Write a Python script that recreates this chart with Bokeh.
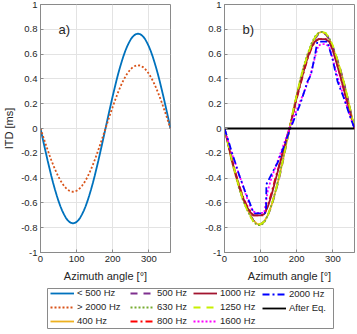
from bokeh.plotting import figure
from bokeh.layouts import column, row
from bokeh.models import (Legend, LegendItem, FixedTicker, CustomJSTickFormatter,
                          Range1d, Label)
from bokeh.embed import file_html
from bokeh.resources import INLINE

FONT = "Liberation Sans"

# ---------------- data ----------------
az5 = [0, 5, 10, 15, 20, 25, 30, 35, 40, 45, 50, 55, 60, 65, 70, 75, 80, 85, 90,
       95, 100, 105, 110, 115, 120, 125, 130, 135, 140, 145, 150, 155, 160, 165, 170, 175, 180,
       185, 190, 195, 200, 205, 210, 215, 220, 225, 230, 235, 240, 245, 250, 255, 260, 265, 270,
       275, 280, 285, 290, 295, 300, 305, 310, 315, 320, 325, 330, 335, 340, 345, 350, 355, 360]

# panel a)
itd_low = [0, -0.067, -0.133, -0.198, -0.262, -0.323, -0.383, -0.439, -0.492, -0.541, -0.586,
           -0.627, -0.662, -0.693, -0.719, -0.739, -0.753, -0.762, -0.765,
           -0.762, -0.753, -0.739, -0.719, -0.693, -0.662, -0.627, -0.586, -0.541, -0.492,
           -0.439, -0.383, -0.323, -0.262, -0.198, -0.133, -0.067, 0,
           0.067, 0.133, 0.198, 0.262, 0.323, 0.383, 0.439, 0.492, 0.541, 0.586,
           0.627, 0.662, 0.693, 0.719, 0.739, 0.753, 0.762, 0.765,
           0.762, 0.753, 0.739, 0.719, 0.693, 0.662, 0.627, 0.586, 0.541, 0.492,
           0.439, 0.383, 0.323, 0.262, 0.198, 0.133, 0.067, 0]
itd_high = [0, -0.044, -0.089, -0.132, -0.174, -0.216, -0.255, -0.293, -0.328, -0.361, -0.391,
            -0.418, -0.442, -0.462, -0.479, -0.493, -0.502, -0.508, -0.51,
            -0.508, -0.502, -0.493, -0.479, -0.462, -0.442, -0.418, -0.391, -0.361, -0.328,
            -0.293, -0.255, -0.216, -0.174, -0.132, -0.089, -0.044, 0,
            0.044, 0.089, 0.132, 0.174, 0.216, 0.255, 0.293, 0.328, 0.361, 0.391,
            0.418, 0.442, 0.462, 0.479, 0.493, 0.502, 0.508, 0.51,
            0.508, 0.502, 0.493, 0.479, 0.462, 0.442, 0.418, 0.391, 0.361, 0.328,
            0.293, 0.255, 0.216, 0.174, 0.132, 0.089, 0.044, 0]

# panel b)
az10 = [0, 10, 20, 30, 40, 50, 60, 70, 80, 90, 100, 110, 120, 130, 140, 150, 160, 170, 180,
        190, 200, 210, 220, 230, 240, 250, 260, 270, 280, 290, 300, 310, 320, 330, 340, 350, 360]
itd_400 = [0, -0.13, -0.26, -0.37, -0.47, -0.56, -0.63, -0.69, -0.74, -0.77, -0.775, -0.75, -0.70,
           -0.62, -0.52, -0.41, -0.28, -0.14, 0.0, 0.14, 0.27, 0.39, 0.50, 0.59, 0.67, 0.73, 0.77,
           0.78, 0.76, 0.72, 0.65, 0.57, 0.48, 0.38, 0.26, 0.13, 0]
itd_500 = [0, -0.12, -0.25, -0.36, -0.46, -0.55, -0.63, -0.69, -0.74, -0.77, -0.77, -0.75, -0.70,
           -0.63, -0.53, -0.42, -0.29, -0.15, 0.0, 0.13, 0.26, 0.38, 0.49, 0.58, 0.66, 0.72, 0.76,
           0.77, 0.76, 0.72, 0.66, 0.58, 0.49, 0.38, 0.26, 0.13, 0]
itd_630 = [0, -0.13, -0.26, -0.37, -0.48, -0.57, -0.64, -0.70, -0.75, -0.78, -0.78, -0.76, -0.70,
           -0.62, -0.52, -0.40, -0.27, -0.13, 0.01, 0.14, 0.27, 0.40, 0.51, 0.60, 0.68, 0.74, 0.77,
           0.78, 0.77, 0.73, 0.66, 0.57, 0.47, 0.37, 0.25, 0.12, 0]
itd_800 = [0, -0.12, -0.24, -0.35, -0.45, -0.54, -0.61, -0.66, -0.70, -0.70, -0.70, -0.70, -0.62,
           -0.52, -0.41, -0.31, -0.20, -0.10, 0.0, 0.12, 0.24, 0.35, 0.46, 0.56, 0.64, 0.70, 0.72,
           0.72, 0.72, 0.71, 0.64, 0.54, 0.43, 0.32, 0.21, 0.10, 0]
itd_1000 = [0, -0.12, -0.25, -0.36, -0.46, -0.55, -0.62, -0.67, -0.70, -0.70, -0.70, -0.69, -0.63,
            -0.54, -0.43, -0.32, -0.21, -0.10, 0.0, 0.12, 0.25, 0.36, 0.47, 0.57, 0.65, 0.70, 0.72,
            0.72, 0.72, 0.70, 0.63, 0.53, 0.43, 0.32, 0.21, 0.10, 0]
itd_1250 = [0, -0.13, -0.25, -0.36, -0.47, -0.56, -0.64, -0.70, -0.75, -0.77, -0.77, -0.75, -0.70,
            -0.62, -0.52, -0.41, -0.28, -0.14, 0.0, 0.14, 0.27, 0.39, 0.50, 0.59, 0.67, 0.73, 0.77,
            0.78, 0.77, 0.73, 0.67, 0.58, 0.48, 0.38, 0.26, 0.13, 0]
itd_1600 = [0, -0.10, -0.20, -0.28, -0.37, -0.45, -0.54, -0.62, -0.67, -0.68, -0.68, -0.68, -0.50,
            -0.40, -0.32, -0.24, -0.16, -0.08, 0.0, 0.08, 0.15, 0.22, 0.29, 0.37, 0.45, 0.57, 0.67,
            0.68, 0.68, 0.66, 0.56, 0.45, 0.35, 0.26, 0.17, 0.08, 0]
az_2000 = [0, 10, 20, 28, 40, 56, 70, 79, 83, 111, 115, 116, 130, 148, 165, 180, 195, 210, 230, 239,
           250, 257, 285, 300, 313, 330, 345, 360]
itd_2000 = [0, -0.09, -0.19, -0.26, -0.37, -0.50, -0.60, -0.67, -0.685, -0.685, -0.67, -0.45, -0.37,
            -0.27, -0.14, -0.02, 0.09, 0.20, 0.38, 0.43, 0.58, 0.70, 0.70, 0.55, 0.38, 0.25, 0.12, 0]
az_eq = [0, 360]
itd_eq = [0, 0]

x_ticks = [0, 100, 200, 300]
y_ticks = [-1, -0.8, -0.6, -0.4, -0.2, 0, 0.2, 0.4, 0.6, 0.8, 1]

# ---------------- styles ----------------
STY = {
    "< 500 Hz": dict(line_color="#0072BD", line_dash="solid"),
    "> 2000 Hz": dict(line_color="#D95319", line_dash="2 2"),
    "400 Hz": dict(line_color="#EDB120", line_dash="solid"),
    "500 Hz": dict(line_color="#7E2F8E", line_dash="7 6"),
    "630 Hz": dict(line_color="#77AC30", line_dash="2 2"),
    "800 Hz": dict(line_color="#FF0000", line_dash="7 3 2 3"),
    "1000 Hz": dict(line_color="#A2142F", line_dash="solid"),
    "1250 Hz": dict(line_color="#C8F000", line_dash="7 6"),
    "1600 Hz": dict(line_color="#FF00FF", line_dash="2 2"),
    "2000 Hz": dict(line_color="#0000FF", line_dash="7 3 2 3"),
    "After Eq.": dict(line_color="#000000", line_dash="solid"),
}
LW = 1.8
AX = "#8a8a8a"
TXT = "#262626"
GRID = "#e3e3e3"

fmt = CustomJSTickFormatter(code="return String(Math.round(tick*10)/10);")


def make_fig(bl, br, ylabel):
    p = figure(frame_width=130, frame_height=248, min_border_left=bl, min_border_right=br,
               min_border_top=4, min_border_bottom=28,
               x_range=Range1d(0, 360), y_range=Range1d(-1, 1),
               output_backend="svg", toolbar_location=None)
    p.outline_line_color = AX
    p.outline_line_width = 1
    p.xaxis.ticker = FixedTicker(ticks=x_ticks)
    p.yaxis.ticker = FixedTicker(ticks=y_ticks)
    p.yaxis.formatter = fmt
    for ax in (p.xaxis[0], p.yaxis[0]):
        ax.axis_line_color = AX
        ax.major_tick_line_color = AX
        ax.major_tick_in = 3
        ax.major_tick_out = 0
        ax.minor_tick_line_color = None
        ax.major_label_text_font = FONT
        ax.major_label_text_font_size = "9.5px"
        ax.major_label_text_color = TXT
        ax.major_label_standoff = 3
        ax.axis_label_text_font = FONT
        ax.axis_label_text_font_size = "11px"
        ax.axis_label_text_font_style = "normal"
        ax.axis_label_text_color = TXT
    p.xaxis.axis_label_standoff = 5
    p.yaxis.axis_label_standoff = 3
    p.xaxis.axis_label = "Azimuth angle [°]"
    if ylabel:
        p.yaxis.axis_label = ylabel
    p.xgrid.ticker = FixedTicker(ticks=x_ticks)
    p.ygrid.ticker = FixedTicker(ticks=y_ticks)
    p.grid.grid_line_color = GRID
    p.grid.grid_line_width = 1
    return p


# ---------------- panel a ----------------
pa = make_fig(33, 6, "ITD [ms]")
pa.line(az5, itd_low, line_width=LW, **STY["< 500 Hz"])
pa.line(az5, itd_high, line_width=LW, **STY["> 2000 Hz"])
pa.add_layout(Label(x=50, y=0.8, text="a)", text_font=FONT, text_font_size="13px",
                    text_baseline="middle", text_color=TXT))

# ---------------- panel b ----------------
pb = make_fig(48, 1, None)
series_b = [("400 Hz", az10, itd_400), ("500 Hz", az10, itd_500), ("630 Hz", az10, itd_630),
            ("800 Hz", az10, itd_800), ("1000 Hz", az10, itd_1000), ("1250 Hz", az10, itd_1250),
            ("1600 Hz", az10, itd_1600), ("2000 Hz", az_2000, itd_2000),
            ("After Eq.", az_eq, itd_eq)]
for name, xs, ys in series_b:
    pb.line(xs, ys, line_width=LW, **STY[name])
pb.add_layout(Label(x=50, y=0.8, text="b)", text_font=FONT, text_font_size="13px",
                    text_baseline="middle", text_color=TXT))

# ---------------- legend strip (frame outline = legend box) ----------------
lf = figure(width=348, height=46, min_border_left=47, min_border_right=15,
            min_border_top=4, min_border_bottom=2,
            x_range=Range1d(1000, 1001), y_range=Range1d(0, 1),
            output_backend="svg", toolbar_location=None)
lf.axis.visible = False
lf.grid.visible = False
lf.outline_line_color = AX
lf.outline_line_width = 1
legend_series = [("< 500 Hz", az5, itd_low), ("> 2000 Hz", az5, itd_high)] + series_b
lookup = {name: (xs, ys) for name, xs, ys in legend_series}
columns = [
    (["< 500 Hz", "> 2000 Hz", "400 Hz"], 3),
    (["500 Hz", "630 Hz", "800 Hz"], 83),
    (["1000 Hz", "1250 Hz", "1600 Hz"], 146),
    (["2000 Hz", "After Eq."], 215),
]
for names, xoff in columns:
    items = []
    for name in names:
        xs, ys = lookup[name]
        r = lf.line(xs, ys, line_width=LW, **STY[name])
        items.append(LegendItem(label=name, renderers=[r]))
    h = len(names) * 10 + (len(names) - 1) * 3
    leg = Legend(items=items, location=(xoff, 40 - 2 - h), orientation="vertical",
                 glyph_width=24, glyph_height=10, label_height=10, label_standoff=3,
                 spacing=3, padding=0, margin=0,
                 label_text_font=FONT, label_text_font_size="9.5px", label_text_color=TXT,
                 border_line_color=None, background_fill_alpha=0)
    lf.add_layout(leg)

layout = column(row(pa, pb, spacing=0), lf, spacing=0)
open("out.html", "w").write(file_html(layout, INLINE))
